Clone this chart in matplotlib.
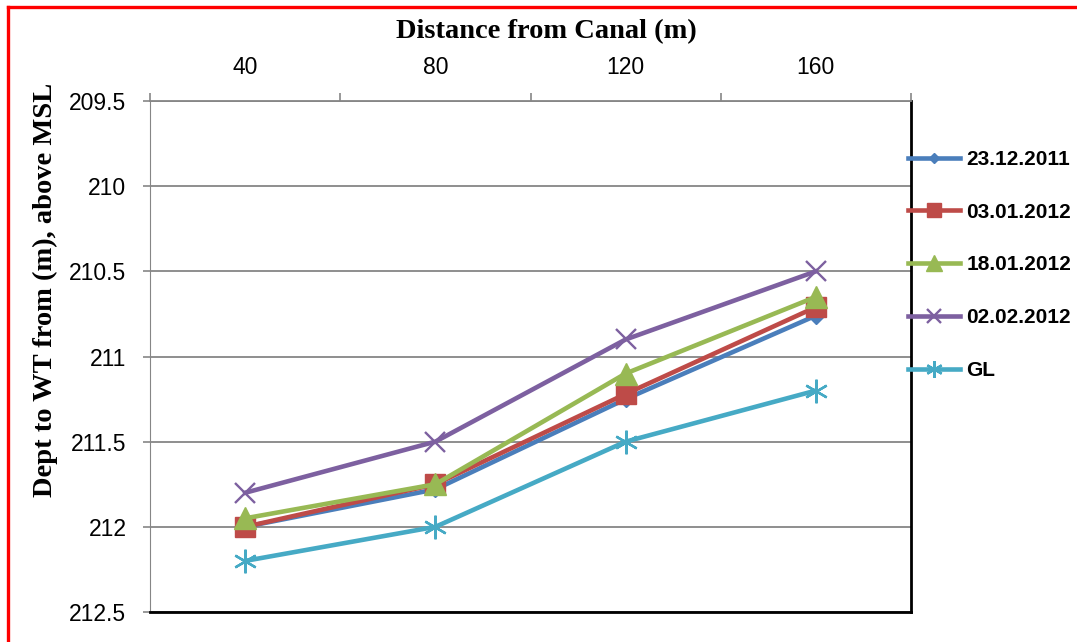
import numpy as np
import matplotlib
matplotlib.use('Agg')
import matplotlib.pyplot as plt
from matplotlib.lines import Line2D

# data
distances = ['40', '80', '120', '160']
d_23_12_2011 = [212.0, 211.78, 211.25, 210.76]
d_03_01_2012 = [212.0, 211.75, 211.22, 210.71]
d_18_01_2012 = [211.95, 211.75, 211.1, 210.65]
d_02_02_2012 = [211.8, 211.5, 210.9, 210.5]
gl = [212.2, 212.0, 211.5, 211.2]

y_ticks = [209.5, 210, 210.5, 211, 211.5, 212, 212.5]

fig = plt.figure(figsize=(10.77, 6.42), dpi=100)
ax = fig.add_axes([150 / 1077, 1 - 612 / 642, (911 - 150) / 1077, (612 - 101) / 642])

x = np.arange(len(distances))
series = [
    ('23.12.2011', d_23_12_2011, '#4A7EBB', 'D', 8),
    ('03.01.2012', d_03_01_2012, '#BE4B48', 's', 15),
    ('18.01.2012', d_18_01_2012, '#98B954', '^', 16),
    ('02.02.2012', d_02_02_2012, '#7D60A0', 'x', 14),
    ('GL', gl, '#46AAC5', (6, 2, 0), 17),
]
for label, vals, col, mk, ms in series:
    ax.plot(x, vals, color=col, lw=3.3, marker=mk, markersize=ms,
            markeredgewidth=1.7 if mk in ('x', (6, 2, 0)) else 1,
            markeredgecolor=col, markerfacecolor=col, label=label, zorder=3)

# y axis (inverted)
ax.set_ylim(212.5, 209.5)
ax.set_yticks(y_ticks)
ax.set_yticklabels([f'{v:g}' for v in y_ticks], fontsize=16.5, family='Liberation Sans')
ax.yaxis.grid(True, color='#868686', lw=1.3)
ax.tick_params(axis='y', length=5, width=1.2, color='#868686', pad=12)

# x axis on top, category style
ax.set_xlim(-0.5, 3.5)
ax.xaxis.tick_top()
ax.set_xticks(x)
ax.set_xticklabels(distances, fontsize=16.5, family='Liberation Sans')
ax.set_xticks(np.arange(-0.5, 4, 1), minor=True)
ax.tick_params(axis='x', which='major', length=0, pad=16)
ax.tick_params(axis='x', which='minor', length=6, width=1.2, color='#868686', top=True)

ax.spines['left'].set_color('#868686')
ax.spines['top'].set_color('#868686')
ax.spines['top'].set_linewidth(1.3)
ax.spines['bottom'].set_color('black')
ax.spines['bottom'].set_linewidth(2)
ax.spines['right'].set_color('black')
ax.spines['right'].set_linewidth(2)

fig.text(546 / 1077, 1 - 32 / 642, 'Distance from Canal (m)', ha='center', va='center',
         fontsize=20.5, fontweight='bold', family='Liberation Serif')
fig.text(45 / 1077, 1 - 290 / 642, 'Dept to WT from (m), above MSL', ha='center', va='center',
         rotation=90, fontsize=20.5, fontweight='bold', family='Liberation Serif')

leg = fig.legend(loc='upper left', bbox_to_anchor=(908 / 1077, 1 - 150 / 642),
                 frameon=False, prop={'family': 'Liberation Sans', 'weight': 'bold', 'size': 15},
                 handlelength=2.5, handletextpad=0.3, labelspacing=1.62,
                 borderpad=0, borderaxespad=0, markerscale=0.7)

# red outer border
fig.add_artist(Line2D([8 / 1077, 1.0], [1 - 7 / 642, 1 - 7 / 642], color='red', lw=2.4,
                      transform=fig.transFigure))
fig.add_artist(Line2D([8 / 1077, 8 / 1077], [0.0, 1 - 7 / 642], color='red', lw=2.4,
                      transform=fig.transFigure))

fig.savefig('out.png', dpi=100)
